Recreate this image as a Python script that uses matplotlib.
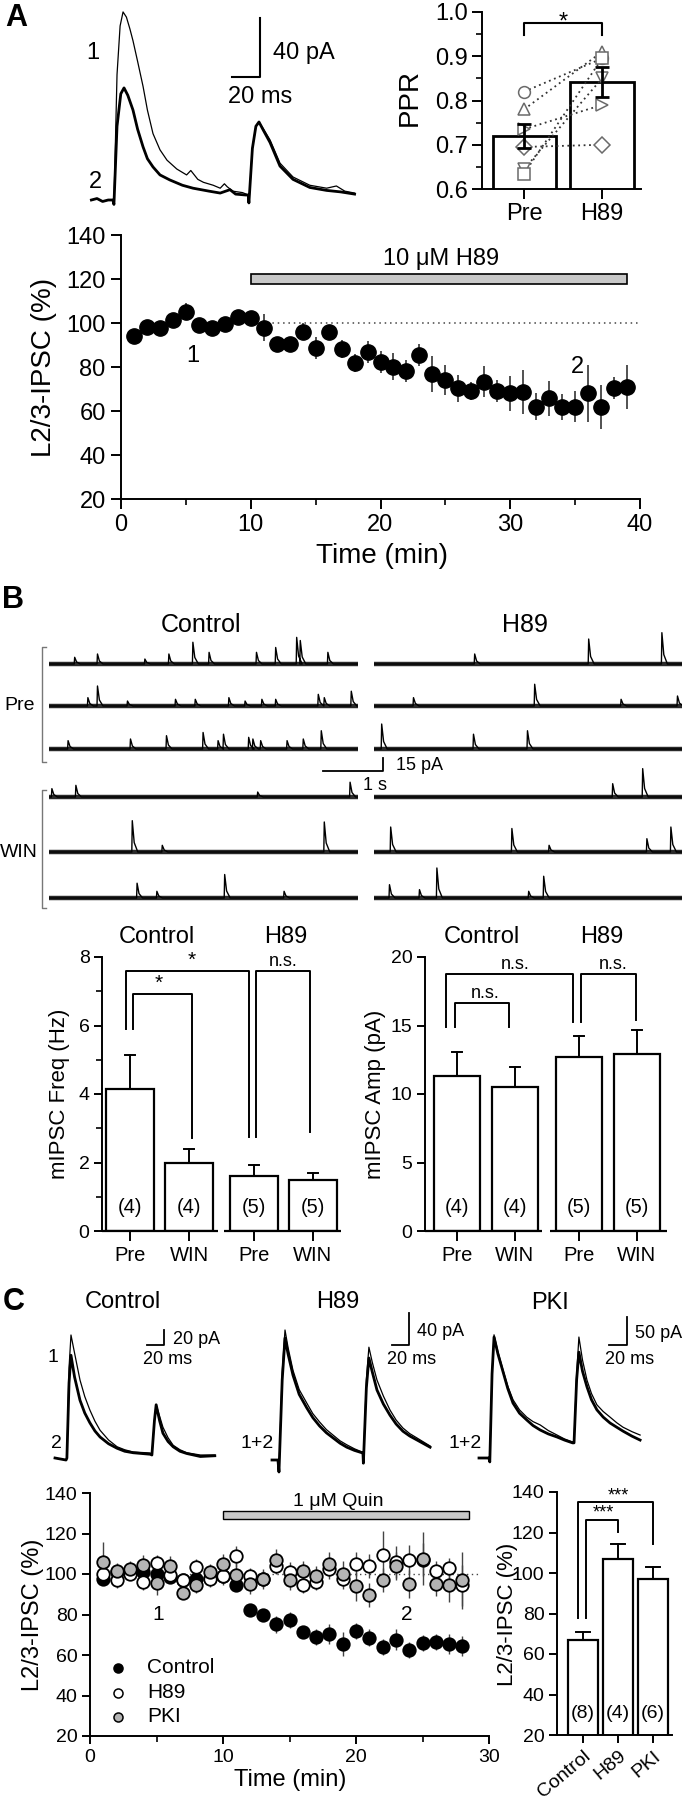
import matplotlib
matplotlib.use('Agg')
import matplotlib.pyplot as plt
from matplotlib.lines import Line2D
from matplotlib.patches import Rectangle

# ---------------- DATA ----------------
# Panel A example traces (time ms, current pA)
a_thin_t = [1, 5, 9, 13, 16.4, 17.1, 19.3, 21.5, 23.6, 26, 28.5, 30.7, 34, 37.9, 41, 45, 50, 55, 62, 69, 72,
            77, 81, 88, 93, 96, 98, 102, 109, 113, 113.5, 116, 118.5, 120.7, 124, 128.6, 135.7, 145, 157,
            163, 169, 176, 182, 189]
a_thin_i = [0, 1, -1, 0, 0, -3, 85, 118, 127.5, 124, 116, 108, 94, 77, 61, 45, 34, 27, 21, 17, 20,
            14, 12, 10, 8, 11, 9, 6, 5, 3.4, -2, 35, 50, 52.9, 48, 40.7, 25, 15.6, 10,
            9, 8, 9.5, 6, 4.7]
a_thick_t = [1, 5, 9, 13, 16.4, 17.1, 19.3, 22, 24.3, 27, 30.7, 34, 37.9, 41, 45, 50, 57, 66, 73.6, 85,
             93, 100, 104, 111, 113, 113.5, 116, 118.5, 120.7, 124, 128.6, 135.7, 145, 157, 169, 179, 189]
a_thick_i = [0, 1, -1, 0, 0, -3, 50, 72, 76, 71, 61, 48, 36, 28, 22.4, 17, 13.6, 10, 8, 6,
             4.7, 7, 4, 3.4, 3.4, -2, 35, 50, 52.9, 47, 39, 23, 14, 8.5, 6.5, 5.5, 4]

# Panel A PPR
ppr_groups = ['Pre', 'H89']
ppr_mean = [0.72, 0.842]
ppr_sem = [0.027, 0.033]
ppr_pre = [0.82, 0.78, 0.735, 0.695, 0.645, 0.635]
ppr_h89 = [0.895, 0.91, 0.79, 0.70, 0.85, 0.895]
ppr_markers = ['o', '^', '>', 'D', 'v', 's']

# Panel A time course
a_time = list(range(1, 40))
a_ipsc = [94.1, 98.3, 97.9, 101.4, 105.2, 99.1, 97.6, 99.5, 102.9, 102.1,
          97.9, 90.5, 90.5, 96.1, 88.8, 95.8, 88.2, 81.7, 86.7, 82.1,
          80.2, 78.3, 85.5, 76.8, 74.1, 70.3, 69.2, 73.3, 69.2, 68.0,
          68.8, 62.0, 65.8, 61.7, 62.0, 68.0, 61.7, 70.3, 71.1]
a_sem = [2, 2, 3, 3, 4, 3, 3, 3, 3, 3,
         6, 3, 3, 4, 5, 3, 4, 4, 5, 5,
         6, 5, 5, 8, 7, 6, 4, 7, 5, 8,
         10, 6, 8, 6, 7, 13, 10, 5, 10]

# Panel B mIPSC traces: events (time s, amplitude pA)
b_ctrl_pre = [
    [(0.42, 7.7), (0.80, 11.5), (1.59, 5.7), (1.99, 11.5), (2.39, 25), (2.66, 13.4), (3.45, 13.4),
     (3.77, 19), (4.12, 30.6), (4.18, 27), (4.64, 13.4)],
    [(0.64, 9.6), (0.80, 23), (1.30, 5.7), (2.10, 7.7), (2.43, 7.7), (2.99, 9.6), (3.26, 5.7),
     (3.54, 7.7), (3.77, 7.7), (4.48, 13.4), (4.58, 9.6), (5.03, 17)],
    [(0.31, 9.6), (1.35, 11.5), (1.95, 15.3), (2.56, 19), (2.81, 9.6), (2.90, 17), (3.32, 13.4),
     (3.39, 11.5), (3.52, 9.6), (3.96, 9.6), (4.23, 11.5), (4.53, 21)],
]
b_h89_pre = [
    [(1.67, 11.5), (3.57, 28.7), (4.79, 36)],
    [(0.65, 9.6), (2.67, 25), (4.11, 7.7), (5.05, 11.5)],
    [(0.12, 28.7), (1.65, 17), (2.55, 21)],
]
b_ctrl_win = [
    [(0.04, 9.6), (0.44, 13.4), (3.47, 5.7), (5.01, 17)],
    [(1.38, 36), (1.88, 7.7), (4.58, 34.5)],
    [(1.46, 17), (1.79, 7.7), (2.92, 27), (3.91, 7.7)],
]
b_h89_win = [
    [(3.97, 15.3), (4.47, 32.6)],
    [(0.27, 28.7), (2.29, 27), (2.91, 7.7), (4.54, 15.3), (4.94, 28.7)],
    [(0.25, 15.3), (0.75, 9.6), (1.04, 34.5), (2.57, 7.7), (2.82, 25)],
]
b_duration = 5.15

# Panel B bar charts
b_xlabels = ['Pre', 'WIN', 'Pre', 'WIN']
freq_mean = [4.15, 2.0, 1.62, 1.5]
freq_sem = [1.0, 0.4, 0.3, 0.18]
amp_mean = [11.3, 10.5, 12.7, 12.9]
amp_sem = [1.8, 1.5, 1.5, 1.8]
b_n = ['(4)', '(4)', '(5)', '(5)']

# Panel C example traces (ms, pA)
cc_t = [0, 13, 14, 16.5, 18.8, 23, 29.4, 35, 41, 47, 53, 63, 73, 82, 92, 112, 114, 117, 119, 123, 127,
        133, 139, 147, 155, 171, 188]
cc_thin = [0, -2.7, 0, 120, 164, 140, 104, 82, 64, 49, 37, 24, 15, 11, 8, 6.7, 4, 50, 71, 56, 41,
           27, 17, 11, 7, 4, 4]
cc_thick = [0, -2.7, 0, 100, 137, 108, 77, 60, 47, 36, 28, 19, 13, 9, 7, 5, 4, 50, 71, 50, 33,
            22, 15, 9, 6, 2, 3]
ch_t = [0, 7, 8.2, 12, 15.3, 19, 24.7, 32, 41, 48, 56, 64, 72, 80, 88, 97, 106, 107, 107.5, 111, 114,
        118, 123.5, 131, 138.8, 146, 154, 162, 170.6, 186]
ch_thin = [0, 0, -15, 110, 162.5, 140, 112, 88, 71, 58, 47.5, 38, 31, 24, 19, 14, 10, 10, -4, 100, 141,
           122, 100, 80, 62.5, 50, 40, 33, 27.5, 17.5]
ch_thick = [0, 0, -15, 100, 152.5, 132, 106, 82, 65, 53, 42.5, 34, 27.5, 21, 16, 12, 9, 9, -4, 90, 127.5,
            110, 87.5, 70, 56, 45, 36, 30, 25, 16]
cp_t = [0, 11, 12, 14.5, 16.7, 21, 26.7, 32, 37.8, 45, 53, 60, 68, 77, 86.7, 95, 104, 105.6, 108.5, 111,
        115, 120, 125, 131, 138, 145.6, 153, 160, 170, 179]
cp_thin = [0, 0, -7, 150, 220, 190, 157, 128, 104, 86, 73, 65, 59, 49, 41, 34, 28.6, 28.6, 150, 216,
           175, 139, 115, 95, 83, 73, 63, 55, 47, 41]
cp_thick = [0, 0, -7, 150, 216, 186, 154, 124, 98, 80, 68, 58, 50, 43, 37.5, 32, 27, 27, 140, 189,
            155, 127, 104, 86, 73, 62.5, 55, 48, 39, 32]

# Panel C time course
c_time = list(range(1, 29))
c_control = [97.7, 101, 101, 101, 100.2, 98.5, 96.9, 97.7, 98, 99,
             94.5, 82.4, 79.6, 75.1, 77.1, 71.4, 68.9, 70.2, 65.3, 71.9,
             68.6, 64.0, 67.6, 62.3, 65.9, 66.4, 65.6, 64.3]
c_control_sem = [3, 3, 3, 3, 3, 3, 3, 3, 3, 3, 3, 3, 3, 4, 4, 3, 4, 5, 6, 4, 4, 4, 5, 4, 4, 4, 5, 5]
c_h89 = [100.2, 96.9, 99.9, 96.1, 105.4, 99.3, 96.9, 103.5, 97.7, 98.8,
         108.7, 98.8, 97.7, 103.8, 101.0, 94.4, 96.1, 102.6, 97.7, 105.1,
         103.8, 109.2, 105.9, 107.1, 107.1, 101.5, 103.0, 94.4]
c_h89_sem = [3, 4, 3, 4, 4, 3, 3, 4, 4, 4, 5, 4, 4, 4, 5, 4, 4, 5, 5, 6, 6, 12, 8, 7, 8, 5, 5, 10]
c_pki = [105.9, 101.5, 102.6, 104.3, 95.6, 103.8, 90.6, 94.4, 101.0, 105.1,
         99.3, 94.9, 97.7, 107.1, 97.2, 101.3, 98.8, 104.8, 100.2, 93.9,
         89.5, 96.9, 103.8, 95.2, 107.6, 95.2, 94.4, 96.9]
c_pki_sem = [10, 4, 4, 5, 6, 5, 3, 4, 4, 5, 6, 5, 5, 5, 5, 5, 5, 6, 6, 7, 6, 6, 7, 7, 13, 6, 8, 14]

# Panel C bars
cbar_labels = ['Control', 'H89', 'PKI']
cbar_mean = [66.7, 107.0, 97.0]
cbar_sem = [4.3, 7.3, 6.0]
cbar_n = ['(8)', '(4)', '(6)']

# ---------------- FIGURE ----------------
W, H, DPI = 684, 1800, 100
plt.rcParams['font.family'] = ['Liberation Sans', 'DejaVu Sans']
plt.rcParams['axes.linewidth'] = 1.4
for k in ['xtick', 'ytick']:
    plt.rcParams[k + '.major.width'] = 1.4
    plt.rcParams[k + '.minor.width'] = 1.2
    plt.rcParams[k + '.direction'] = 'out'

fig = plt.figure(figsize=(W / DPI, H / DPI), dpi=DPI)


def ax_px(x0, y0, x1, y1):
    return fig.add_axes([x0 / W, 1 - y1 / H, (x1 - x0) / W, (y1 - y0) / H])


def T(x, y, s, size, ha='center', va='center', **kw):
    return fig.text(x / W, 1 - y / H, s, fontsize=size, ha=ha, va=va, **kw)


def L(xs, ys, **kw):
    fig.add_artist(Line2D([x / W for x in xs], [1 - y / H for y in ys], **kw))


def trace_ax(x0, y0, x1, y1, ox, oy, sx, sy):
    a = ax_px(x0, y0, x1, y1)
    a.set_xlim((x0 - ox) / sx, (x1 - ox) / sx)
    a.set_ylim((oy - y1) / sy, (oy - y0) / sy)
    a.axis('off')
    return a


def clean(ax, bottom=True):
    ax.spines['top'].set_visible(False)
    ax.spines['right'].set_visible(False)
    if not bottom:
        ax.spines['bottom'].set_visible(False)
    ax.patch.set_alpha(0)


# ===== Panel A =====
T(16, 18, 'A', 22, fontweight='bold')
axA = trace_ax(86, 4, 362, 212, 90, 200, 1.4, 1.475)
axA.plot(a_thin_t, a_thin_i, color='k', lw=0.9)
axA.plot(a_thick_t, a_thick_i, color='k', lw=2.0)
sbx, sby = (260 - 90) / 1.4, (200 - 77) / 1.475
axA.plot([sbx - 20, sbx, sbx], [sby, sby, sby + 40], color='k', lw=1.5)
T(93, 53, '1', 17)
T(95, 182, '2', 17)
T(273, 53, '40 pA', 17, ha='left')
T(228, 97, '20 ms', 17, ha='left')

# PPR
axP = ax_px(482, 12, 641, 189)
clean(axP)
axP.set_xlim(-0.54, 1.5)
axP.set_ylim(0.6, 1.0)
axP.bar([0, 1], ppr_mean, width=0.81, color='white', edgecolor='k', lw=2.0, zorder=2)
for pre, h89, m in zip(ppr_pre, ppr_h89, ppr_markers):
    axP.plot([0, 1], [pre, h89], ls=(0, (1, 2)), color='#333', lw=1.3, zorder=3)
    axP.plot([0, 1], [pre, h89], ls='none', marker=m, ms=8.5, mfc='white', mec='#6a6a6a',
             mew=1.1, zorder=4)
axP.errorbar([0, 1], ppr_mean, yerr=ppr_sem, fmt='none', ecolor='k', elinewidth=2,
             capsize=5, capthick=2, zorder=5)
axP.set_yticks([0.6, 0.7, 0.8, 0.9, 1.0])
axP.set_yticklabels(['0.6', '0.7', '0.8', '0.9', '1.0'])
axP.set_yticks([0.65, 0.75, 0.85, 0.95], minor=True)
axP.set_xticks([0, 1])
axP.set_xticklabels(ppr_groups)
axP.tick_params(axis='both', labelsize=17, length=7, pad=3)
axP.tick_params(which='minor', length=4)
axP.plot([0, 0, 1, 1], [0.948, 0.975, 0.975, 0.948], color='k', lw=1.5, clip_on=False)
axP.text(0.5, 0.962, '*', ha='center', va='baseline', fontsize=17)
T(410, 98, 'PPR', 20, rotation=90)

# Time course A
axT = ax_px(121, 235, 640, 499)
clean(axT)
axT.set_xlim(0, 40)
axT.set_ylim(20, 140)
axT.plot([10, 40], [100, 100], ls=(0, (1, 2.5)), color='#444', lw=1.1, zorder=1)
axT.add_patch(Rectangle((10, 117.6), 29, 4.7, facecolor='#c8c8c8', edgecolor='k', lw=1.2, zorder=2))
axT.errorbar(a_time, a_ipsc, yerr=a_sem, fmt='none', ecolor='#333', elinewidth=1.2, zorder=2)
axT.plot(a_time, a_ipsc, 'o', color='k', ms=11, zorder=3)
axT.text(24.7, 129, '10 \u03bcM H89', ha='center', va='center', fontsize=17)
axT.text(5.5, 85, '1', ha='center', va='center', fontsize=17)
axT.text(35.2, 80, '2', ha='center', va='center', fontsize=17)
axT.set_xticks([0, 10, 20, 30, 40])
axT.set_xticks([5, 15, 25, 35], minor=True)
axT.set_yticks([20, 40, 60, 80, 100, 120, 140])
axT.tick_params(axis='both', labelsize=17, length=7, pad=4)
axT.tick_params(which='minor', length=4)
T(44, 367, 'L2/3-IPSC (%)', 20, rotation=90)
T(382, 556, 'Time (min)', 20)

# ===== Panel B =====
T(13, 600, 'B', 22, fontweight='bold')
T(201, 625, 'Control', 18)
T(525, 625, 'H89', 18)


def mini(events, dur):
    t = [0.0]
    y = [0.0]
    for te, a in events:
        t += [te, te + 0.008, te + 0.04, te + 0.10]
        y += [0, a, a * 0.3, 0]
    t.append(dur)
    y.append(0)
    return t, y


pre_base = [664, 706, 749]
win_base = [797, 852, 898]
for bases, ctrl_rows, h89_rows in [(pre_base, b_ctrl_pre, b_h89_pre), (win_base, b_ctrl_win, b_h89_win)]:
    for b, ev_c, ev_h in zip(bases, ctrl_rows, h89_rows):
        for x0, x1, ev in [(49, 358, ev_c), (374, 682, ev_h)]:
            a = trace_ax(x0, b - 45, x1, b + 10, x0, b, 60, 0.87)
            a.plot([0, b_duration], [0, 0], color='#2a2a2a', lw=3.2, solid_capstyle='butt')
            tt, yy = mini(ev, b_duration)
            a.plot(tt, yy, color='k', lw=1.0)

L([46, 42, 42, 46], [647, 647, 762, 762], color='#777', lw=1.0)
L([46, 42, 42, 46], [790, 790, 908, 908], color='#777', lw=1.0)
T(20, 706, 'Pre', 14)
T(19, 852, 'WIN', 14)
L([323, 383, 383], [771, 771, 758], color='k', lw=1.3)
T(396, 766, '15 pA', 13, ha='left')
T(363, 785, '1 s', 13, ha='left')

bx = [0, 1, 2.1, 3.1]


def bar_chart(ax, mean, sem, xl, seg, ylim, yt, cap):
    clean(ax, bottom=False)
    ax.set_xlim(*xl)
    ax.set_ylim(*ylim)
    ax.bar(bx, mean, width=0.8, color='white', edgecolor='k', lw=1.6, zorder=2)
    for x, m, s in zip(bx, mean, sem):
        ax.plot([x, x], [m, m + s], color='k', lw=1.4, zorder=1)
        ax.plot([x - cap, x + cap], [m + s, m + s], color='k', lw=1.4, zorder=1)
    for a0, a1 in seg:
        ax.plot([a0, a1], [0, 0], color='k', lw=1.6, clip_on=False, solid_capstyle='butt')
    ax.set_xticks(bx)
    ax.set_xticklabels(b_xlabels)
    ax.set_yticks(yt)
    ax.tick_params(axis='y', labelsize=14, length=6, pad=3)
    ax.tick_params(axis='x', labelsize=14.5, length=7, pad=4)
    for x, n in zip(bx, b_n):
        ax.text(x, ylim[1] * 0.085, n, ha='center', va='center', fontsize=14.5)


axF = ax_px(102, 957, 341, 1231)
bar_chart(axF, freq_mean, freq_sem, (-0.475, 3.576), [(-0.475, 1.49), (1.6, 3.576)], (0, 8),
          [0, 2, 4, 6, 8], 0.085)
axF.set_yticks([1, 3, 5, 7], minor=True)
axF.tick_params(which='minor', length=4)
bk = dict(color='k', lw=1.4, clip_on=False)
axF.plot([-0.07, -0.07, 2.02, 2.02], [5.9, 7.6, 7.6, 2.75], **bk)
axF.plot([0.05, 0.05, 1.05, 1.05], [5.9, 6.92, 6.92, 2.72], **bk)
axF.plot([2.14, 2.14, 3.05, 3.05], [2.75, 7.6, 7.6, 2.9], **bk)
axF.text(1.05, 7.62, '*', ha='center', va='bottom', fontsize=15)
axF.text(0.49, 6.94, '*', ha='center', va='bottom', fontsize=15)
axF.text(2.6, 7.62, 'n.s.', ha='center', va='bottom', fontsize=13)
T(59, 1094, 'mIPSC Freq (Hz)', 16, rotation=90)

axM = ax_px(425, 957, 667, 1231)
bar_chart(axM, amp_mean, amp_sem, (-0.55, 3.62), [(-0.55, 1.47), (1.6, 3.62)], (0, 20),
          [0, 5, 10, 15, 20], 0.085)
axM.plot([-0.19, -0.19, 2.0, 2.0], [14.9, 18.76, 18.76, 15.25], **bk)
axM.plot([-0.03, -0.03, 0.9, 0.9], [14.9, 16.64, 16.64, 14.9], **bk)
axM.plot([2.14, 2.14, 3.09, 3.09], [15.25, 18.76, 18.76, 15.4], **bk)
axM.text(1.0, 18.85, 'n.s.', ha='center', va='bottom', fontsize=13)
axM.text(0.48, 16.73, 'n.s.', ha='center', va='bottom', fontsize=13)
axM.text(2.7, 18.85, 'n.s.', ha='center', va='bottom', fontsize=13)
T(376, 1094, 'mIPSC Amp (pA)', 16, rotation=90)

T(157, 937, 'Control', 17)
T(286, 937, 'H89', 17)
T(482, 937, 'Control', 17)
T(602, 937, 'H89', 17)

# ===== Panel C =====
T(14, 1302, 'C', 22, fontweight='bold')
T(123, 1302, 'Control', 17)
T(338, 1302, 'H89', 17)
T(550, 1303, 'PKI', 17)

axc1 = trace_ax(50, 1318, 222, 1478, 55, 1458, 0.85, 0.75)
axc1.plot(cc_t, cc_thin, color='k', lw=0.9)
axc1.plot(cc_t, cc_thick, color='k', lw=2.0)
sx1, sy1 = (164 - 55) / 0.85, (1458 - 1345) / 0.75
axc1.plot([sx1 - 20, sx1, sx1], [sy1, sy1, sy1 + 20], color='k', lw=1.3)
T(173, 1340, '20 pA', 13, ha='left')
T(143, 1360, '20 ms', 13, ha='left')
T(53, 1357, '1', 14)
T(56, 1443, '2', 14)

axc2 = trace_ax(265, 1305, 437, 1478, 272, 1460, 0.85, 0.8)
axc2.plot(ch_t, ch_thin, color='k', lw=0.9)
axc2.plot(ch_t, ch_thick, color='k', lw=2.0)
sx2, sy2 = (409 - 272) / 0.85, (1460 - 1345) / 0.8
axc2.plot([sx2 - 20, sx2, sx2], [sy2, sy2, sy2 + 40], color='k', lw=1.3)
T(417, 1332, '40 pA', 13, ha='left')
T(387, 1360, '20 ms', 13, ha='left')
T(257, 1443, '1+2', 14)

axc3 = trace_ax(472, 1305, 650, 1478, 479, 1458, 0.9, 0.56)
axc3.plot(cp_t, cp_thin, color='k', lw=0.9)
axc3.plot(cp_t, cp_thick, color='k', lw=2.0)
sx3, sy3 = (627 - 479) / 0.9, (1458 - 1345) / 0.56
axc3.plot([sx3 - 20, sx3, sx3], [sy3, sy3, sy3 + 50], color='k', lw=1.3)
T(635, 1334, '50 pA', 13, ha='left')
T(605, 1360, '20 ms', 13, ha='left')
T(465, 1443, '1+2', 14)

# C time course
axC = ax_px(90, 1493, 489, 1736)
clean(axC)
axC.set_xlim(0, 30)
axC.set_ylim(20, 140)
axC.plot([0.5, 29.3], [100, 100], ls=(0, (1, 2.5)), color='#444', lw=1.0, zorder=1)
axC.add_patch(Rectangle((10, 127.2), 18.5, 3.9, facecolor='#c8c8c8', edgecolor='k', lw=1.0, zorder=2))
axC.text(18.7, 136, '1 \u03bcM Quin', ha='center', va='center', fontsize=14)
for vals, sems, fc in [(c_control, c_control_sem, 'k'), (c_h89, c_h89_sem, 'white'),
                       (c_pki, c_pki_sem, '#b4b4b4')]:
    axC.errorbar(c_time, vals, yerr=sems, fmt='none', ecolor='#444', elinewidth=1.0, zorder=2)
    axC.plot(c_time, vals, 'o', ms=9, mfc=fc, mec='k', mew=1.3, zorder=3)
axC.text(5.1, 79.8, '1', ha='center', va='center', fontsize=15)
axC.text(23.8, 80, '2', ha='center', va='center', fontsize=15)
for yy, lab, fc in [(53.6, 'Control', 'k'), (41.3, 'H89', 'white'), (29.4, 'PKI', '#b4b4b4')]:
    axC.plot([2.1], [yy], 'o', ms=6.5, mfc=fc, mec='k', mew=1.1)
    axC.text(4.3, yy, lab, ha='left', va='center', fontsize=15)
axC.set_xticks([0, 10, 20, 30])
axC.set_xticks([5, 15, 25], minor=True)
axC.set_yticks([20, 40, 60, 80, 100, 120, 140])
axC.tick_params(axis='both', labelsize=14, length=6, pad=3)
axC.tick_params(which='minor', length=4)
T(33, 1615, 'L2/3-IPSC (%)', 17, rotation=90)
T(290, 1780, 'Time (min)', 17)

# C bars
axB = ax_px(557, 1492, 672, 1735)
clean(axB)
axB.set_xlim(-0.74, 2.54)
axB.set_ylim(20, 140)
cx = [0, 1, 2]
axB.bar(cx, cbar_mean, width=0.86, color='white', edgecolor='k', lw=1.6, zorder=2)
for x, m, s in zip(cx, cbar_mean, cbar_sem):
    axB.plot([x, x], [m, m + s], color='k', lw=1.4, zorder=1)
    axB.plot([x - 0.2, x + 0.2], [m + s, m + s], color='k', lw=1.4, zorder=1)
for x, n in zip(cx, cbar_n):
    axB.text(x, 30.8, n, ha='center', va='center', fontsize=14)
axB.plot([-0.14, -0.14, 2.0, 2.0], [77.8, 135, 135, 114.3], **bk)
axB.plot([0.086, 0.086, 1.0, 1.0], [77.8, 126.2, 126.2, 120.2], **bk)
axB.text(1.0, 134, '***', ha='center', va='bottom', fontsize=13)
axB.text(0.57, 125.2, '***', ha='center', va='bottom', fontsize=13)
axB.set_xticks(cx)
axB.set_xticklabels(cbar_labels, rotation=40, ha='right', rotation_mode='anchor')
axB.set_yticks([20, 40, 60, 80, 100, 120, 140])
axB.tick_params(axis='y', labelsize=14, length=6, pad=3)
axB.tick_params(axis='x', labelsize=14, length=6, pad=3)
T(507, 1614, 'L2/3-IPSC (%)', 16, rotation=90)

fig.savefig('out.png', dpi=DPI)
